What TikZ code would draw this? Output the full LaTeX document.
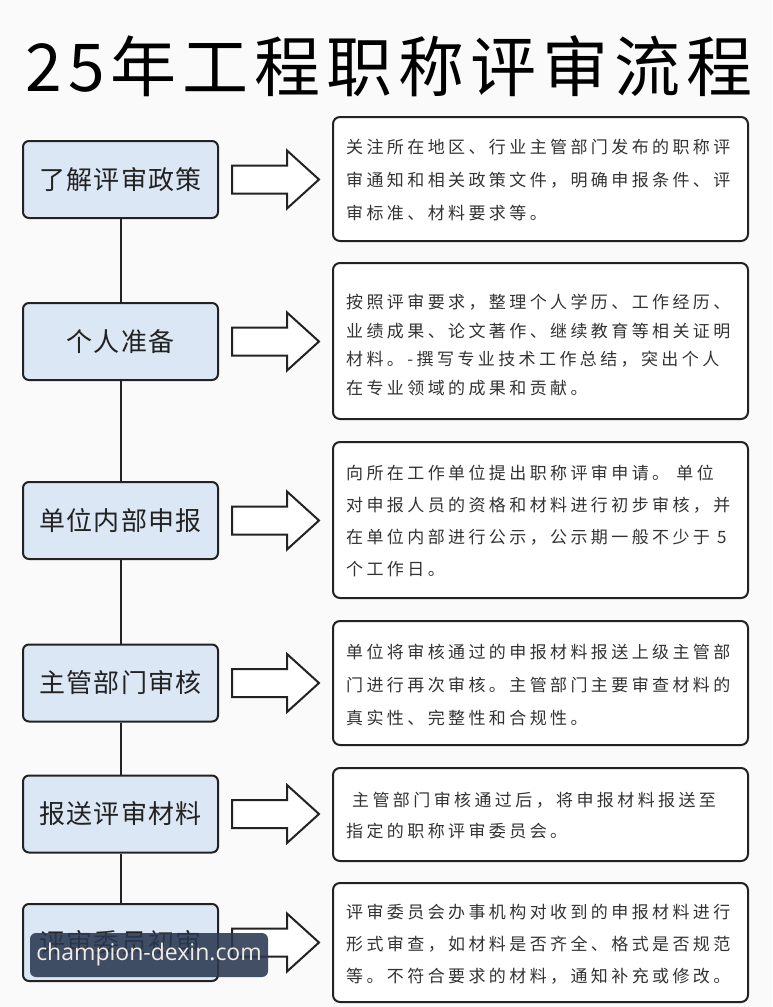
\documentclass[tikz,border=0pt]{standalone}
\usepackage{fontspec}
\usetikzlibrary{calc}
\newfontfamily\cjk{Noto Sans CJK SC}
\newfontfamily\cjkbody[LetterSpace=20]{Noto Sans CJK SC}
\newfontfamily\cjkleft[LetterSpace=5]{Noto Sans CJK SC}
\newfontfamily\cjktitle[LetterSpace=9]{Noto Sans CJK SC}
\newfontfamily\wmfont{Open Sans}

\definecolor{bg}{HTML}{FAFAFA}
\definecolor{stepfill}{HTML}{DCE7F5}
\definecolor{ink}{HTML}{222222}
\definecolor{bodyink}{HTML}{333333}
\definecolor{wmfill}{HTML}{2A3850}
\definecolor{wmtext}{HTML}{F3ECE4}

\tikzset{
  stepbox/.style={draw=ink, line width=2, rounded corners=6, fill=stepfill,
    minimum width=195, minimum height=77, inner sep=0,
    font=\cjkleft\fontsize{26}{30}\selectfont, text=ink},
  descbox/.style={draw=ink, line width=2, rounded corners=7, fill=white,
    minimum width=415, inner sep=0},
  desctext/.style={anchor=west, align=left, inner sep=0, text=bodyink},
  link/.style={draw=ink, line width=2},
  blockarrow/.style={draw=ink, line width=2, fill=white, line join=miter},
}

\newcommand{\flowarrow}[2]{%
  \draw[blockarrow] ($(#1.east)+(13,-14)$)
    -- ($(#2.west |- #1.east)+(-45,-14)$) -- ++(0,-15)
    -- ($(#2.west |- #1.east)+(-13,0)$)
    -- ($(#2.west |- #1.east)+(-45,29)$) -- ++(0,-15)
    -- ($(#1.east)+(13,14)$) -- cycle;}

\begin{document}
\begin{tikzpicture}[x=1pt, y=-1pt]
\fill[bg] (0,0) rectangle (772,1007);
\useasboundingbox (0,0) rectangle (772,1007);

\node[font=\cjktitle\fontsize{66}{70}\selectfont, text=black] (title) at (389,66) {25年工程职称评审流程};

% left step boxes
\node[stepbox] (L1) at (120.5,179.5) {了解评审政策};
\node[stepbox] (L2) at (120.5,341.5) {个人准备};
\node[stepbox] (L3) at (120.5,520.5) {单位内部申报};
\node[stepbox] (L4) at (120.5,683) {主管部门审核};
\node[stepbox] (L5) at (120.5,814) {报送评审材料};
\node[stepbox] (L6) at (120.5,942.5) {评审委员初审};

\draw[link] (L1.south) -- (L2.north);
\draw[link] (L2.south) -- (L3.north);
\draw[link] (L3.south) -- (L4.north);
\draw[link] (L4.south) -- (L5.north);
\draw[link] (L5.south) -- (L6.north);

% right description boxes
\node[descbox, minimum height=124] (R1) at (540.5,179) {};
\node[descbox, minimum height=156] (R2) at (540.5,341) {};
\node[descbox, minimum height=156] (R3) at (540.5,520) {};
\node[descbox, minimum height=124] (R4) at (540.5,683) {};
\node[descbox, minimum height=93] (R5) at (540.5,814.5) {};
\node[descbox, minimum height=119] (R6) at (540.5,942.5) {};

\node[desctext, font=\cjkbody\fontsize{17}{33}\selectfont] (T1) at ($(R1.west)+(14,1)$)
  {关注所在地区、行业主管部门发布的职称评\\审通知和相关政策文件，明确申报条件、评\\审标准、材料要求等。};
\node[desctext, font=\cjkbody\fontsize{17}{28.5}\selectfont] (T2) at ($(R2.west)+(14,4)$)
  {按照评审要求，整理个人学历、工作经历、\\业绩成果、论文著作、继续教育等相关证明\\材料。-撰写专业技术工作总结，突出个人\\在专业领域的成果和贡献。};
\node[desctext, font=\cjkbody\fontsize{17}{32}\selectfont] (T3) at ($(R3.west)+(14,1)$)
  {向所在工作单位提出职称评审申请。 单位\\对申报人员的资格和材料进行初步审核，并\\在单位内部进行公示，公示期一般不少于 5\\个工作日。};
\node[desctext, font=\cjkbody\fontsize{17}{33}\selectfont] (T4) at ($(R4.west)+(14,2)$)
  {单位将审核通过的申报材料报送上级主管部\\门进行再次审核。主管部门主要审查材料的\\真实性、完整性和合规性。};
\node[desctext, font=\cjkbody\fontsize{17}{31}\selectfont] (T5) at ($(R5.west)+(14,1)$)
  {\hspace*{6pt}主管部门审核通过后，将申报材料报送至\\指定的职称评审委员会。};
\node[desctext, font=\cjkbody\fontsize{17}{32}\selectfont] (T6) at ($(R6.west)+(14,2)$)
  {评审委员会办事机构对收到的申报材料进行\\形式审查，如材料是否齐全、格式是否规范\\等。不符合要求的材料，通知补充或修改。};

% block arrows
\flowarrow{L1}{R1}
\flowarrow{L2}{R2}
\flowarrow{L3}{R3}
\flowarrow{L4}{R4}
\flowarrow{L5}{R5}
\flowarrow{L6}{R6}

% watermark overlay
\node[fill=wmfill, fill opacity=0.88, text opacity=1, text=wmtext, rounded corners=6,
  minimum width=238, minimum height=44, inner sep=0,
  font=\wmfont\fontsize{23}{26}\selectfont] (wm) at (149,955) {champion-dexin.com};
\end{tikzpicture}
\end{document}
